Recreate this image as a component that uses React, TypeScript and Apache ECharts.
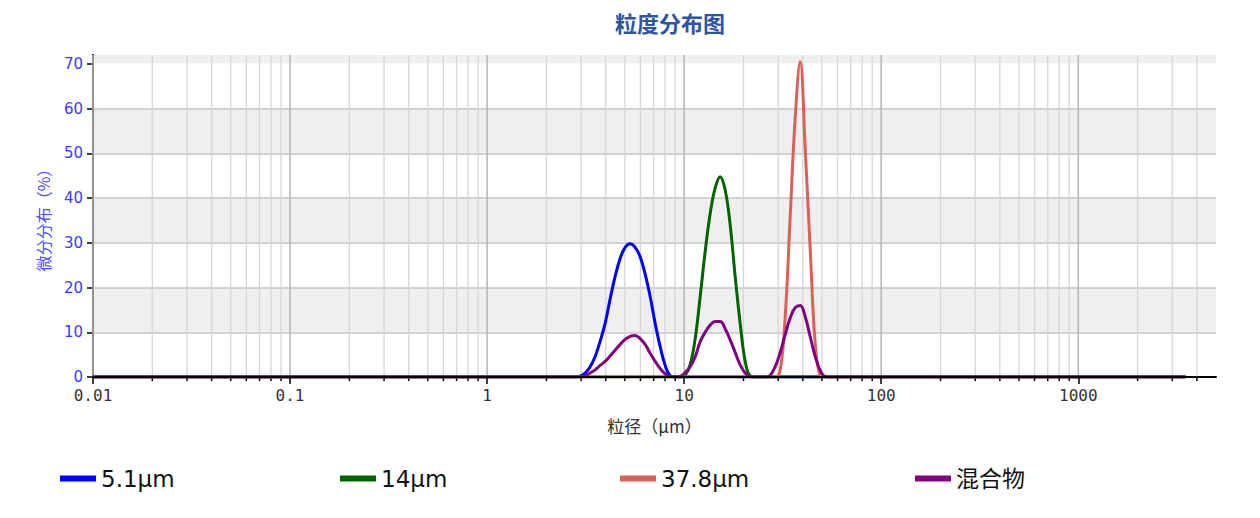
import { useEffect, useRef } from "react";
import * as echarts from "echarts";

const TITLE = "粒度分布图";
const X_NAME = "粒径（μm）";
const Y_NAME = "微分分布（%）";
const SERIES_NAMES = ["5.1μm", "14μm", "37.8μm", "混合物"];
const SERIES_COLORS = ["#0000ff", "#006400", "#dc5f5a", "#800080"];

const X_MIN = 0.01;
const X_MAX = 5000;
const Y_MIN = 0;
const Y_MAX = 72;
const Y_STEP = 10;
const Y_TICKS = [0, 10, 20, 30, 40, 50, 60, 70];

const MAJOR_TICKS = [0.01, 0.1, 1, 10, 100, 1000];
const MINOR_TICKS = [
  0.02, 0.03, 0.04, 0.05, 0.06, 0.07, 0.08, 0.09,
  0.2, 0.3, 0.4, 0.5, 0.6, 0.7, 0.8, 0.9,
  2, 3, 4, 5, 6, 7, 8, 9,
  20, 30, 40, 50, 60, 70, 80, 90,
  200, 300, 400, 500, 600, 700, 800, 900,
  2000, 3000, 4000,
];

// particle size classes (μm)
const SIZES = [
  0.01,
  2.638, 2.797, 2.966, 3.145, 3.333, 3.534, 3.747, 3.972, 4.211, 4.464,
  4.732, 5.017, 5.319, 5.640, 5.978, 6.339, 6.720, 7.125, 7.553, 8.008,
  8.490, 9.000, 9.543, 10.12, 10.73, 11.37, 12.06, 12.78, 13.55, 14.37,
  15.23, 16.15, 17.12, 18.15, 19.24, 20.40, 21.63, 22.93, 24.31, 25.78,
  27.33, 28.97, 30.72, 32.57, 34.53, 36.60, 38.80, 41.14, 43.62, 46.24,
  49.03, 51.97, 55.10,
  3500,
];

const S_5_1 = [
  0,
  0, 0, 0.2, 0.9, 2.3, 4.6, 8, 12, 17.5, 22.5,
  26.5, 29, 29.8, 29, 26.9, 23, 18, 12, 6.8, 2.6,
  0.3, 0, 0, 0, 0, 0, 0, 0, 0, 0,
  0, 0, 0, 0, 0, 0, 0, 0, 0, 0,
  0, 0, 0, 0, 0, 0, 0, 0, 0, 0,
  0, 0, 0,
  0,
];

const S_14 = [
  0,
  0, 0, 0, 0, 0, 0, 0, 0, 0, 0,
  0, 0, 0, 0, 0, 0, 0, 0, 0, 0,
  0, 0, 0, 0.4, 2.8, 8.5, 18, 28, 36.5, 42.3,
  44.8, 41.8, 34, 22.5, 12, 3.5, 0.2, 0, 0, 0,
  0, 0, 0, 0, 0, 0, 0, 0, 0, 0,
  0, 0, 0,
  0,
];

const S_37_8 = [
  0,
  0, 0, 0, 0, 0, 0, 0, 0, 0, 0,
  0, 0, 0, 0, 0, 0, 0, 0, 0, 0,
  0, 0, 0, 0, 0, 0, 0, 0, 0, 0,
  0, 0, 0, 0, 0, 0, 0, 0, 0, 0,
  0, 0, 1.5, 13.5, 36, 58, 70.5, 51, 28.5, 7.5,
  0.3, 0, 0,
  0,
];

const S_MIX = [
  0,
  0, 0, 0, 0.3, 0.9, 1.6, 2.6, 3.5, 4.7, 6.0,
  7.3, 8.4, 9.1, 9.3, 8.6, 7.3, 5.3, 3.5, 1.9, 0.7,
  0.1, 0, 0.1, 1.0, 2.3, 4.5, 7.9, 10, 11.6, 12.4,
  12.4, 10.8, 8.3, 5.5, 2.7, 0.9, 0.1, 0, 0, 0,
  0.4, 2.3, 5.5, 9.5, 13.2, 15.5, 16, 13.5, 9, 4.6,
  1.5, 0.1, 0,
  0,
];

const SERIES_VALUES = [S_5_1, S_14, S_37_8, S_MIX];
const LEGEND_LEFT = [55, 335, 615, 910];

export default function App() {
  const ref = useRef<HTMLDivElement>(null);

  useEffect(() => {
    if (!ref.current) return;
    const chart = echarts.init(ref.current, null, { renderer: "svg" });

    const gridData = [
      ...MAJOR_TICKS.map((v) => [v, 0, 1]),
      ...MINOR_TICKS.map((v) => [v, 0, 0]),
    ];

    const lineSeries = SERIES_NAMES.map((name, i) => ({
      name,
      type: "line",
      data: SIZES.map((s, j) => [s, SERIES_VALUES[i][j]]),
      smooth: 0.4,
      showSymbol: false,
      symbol: "none",
      lineStyle: { width: 3, color: SERIES_COLORS[i] },
      itemStyle: { color: SERIES_COLORS[i] },
      z: 5,
    }));

    chart.setOption({
      animation: false,
      backgroundColor: "#ffffff",
      title: {
        text: TITLE,
        left: 610,
        top: 6,
        textStyle: {
          fontSize: 22,
          fontWeight: "bold",
          color: "#2f54a0",
          fontFamily: "Noto Sans CJK SC",
        },
      },
      grid: { left: 93, right: 44, top: 55, bottom: 141, containLabel: false },
      legend: SERIES_NAMES.map((n, i) => ({
        data: [n],
        left: LEGEND_LEFT[i],
        top: 462,
        icon: "rect",
        itemWidth: 36,
        itemHeight: 6,
        itemGap: 0,
        selectedMode: false,
        textStyle: {
          fontSize: 23,
          color: "#111",
          fontFamily: "DejaVu Sans, Noto Sans CJK SC",
        },
      })),
      xAxis: {
        type: "log",
        logBase: 10,
        min: X_MIN,
        max: X_MAX,
        z: 6,
        axisLine: { show: true, onZero: false, lineStyle: { color: "#000", width: 2 } },
        axisTick: { show: true, length: 7, lineStyle: { color: "#000", width: 1.5 } },
        axisLabel: {
          color: "#333",
          fontSize: 16,
          fontFamily: "DejaVu Sans Mono",
          margin: 10,
          showMaxLabel: false,
          formatter: (v: number) => String(parseFloat(Number(v).toPrecision(4))),
        },
        splitLine: { show: false },
        name: X_NAME,
        nameLocation: "middle",
        nameGap: 40,
        nameTextStyle: { color: "#333", fontSize: 17, fontFamily: "Noto Sans CJK SC" },
      },
      yAxis: {
        type: "value",
        min: Y_MIN,
        max: Y_MAX,
        interval: Y_STEP,
        axisLine: { show: true, lineStyle: { color: "#000", width: 2 } },
        axisTick: {
          show: true,
          length: 6,
          customValues: Y_TICKS,
          lineStyle: { color: "#000", width: 1.5 },
        },
        axisLabel: {
          color: "#3b3bff",
          fontSize: 15,
          fontFamily: "DejaVu Sans",
          margin: 10,
          showMaxLabel: false,
        },
        splitLine: {
          show: true,
          showMaxLine: false,
          lineStyle: { color: "#c4c4c4", width: 1.5 },
        },
        splitArea: { show: true, areaStyle: { color: ["#ffffff", "#efefef"] } },
        name: Y_NAME,
        nameLocation: "middle",
        nameGap: 42,
        nameTextStyle: { color: "#4b4bff", fontSize: 16, fontFamily: "Noto Sans CJK SC" },
      },
      series: [
        {
          type: "custom",
          name: "topBand",
          data: [[X_MIN, Y_MAX]],
          z: 0,
          silent: true,
          renderItem: (params: any, api: any) => {
            const p0 = api.coord([X_MIN, Y_MAX]);
            const p1 = api.coord([X_MAX, Y_TICKS[Y_TICKS.length - 1]]);
            return {
              type: "rect",
              z2: 0,
              shape: { x: p0[0], y: p0[1], width: p1[0] - p0[0], height: p1[1] - p0[1] - 0.75 },
              style: { fill: "#efefef" },
            };
          },
        },
        {
          type: "custom",
          name: "grid",
          data: gridData,
          z: 4,
          silent: true,
          renderItem: (params: any, api: any) => {
            const v = api.value(0);
            const top = api.coord([v, Y_MAX]);
            const bot = api.coord([v, Y_MIN]);
            const x = top[0];
            const major = api.value(2) === 1;
            return {
              type: "group",
              children: [
                {
                  type: "line",
                  z2: 10,
                  shape: { x1: x, y1: top[1], x2: x, y2: bot[1] },
                  style: { stroke: major ? "#b8b8b8" : "#d6d6d6", lineWidth: major ? 1.6 : 1.3 },
                },
                {
                  type: "line",
                  z2: 10,
                  shape: { x1: x, y1: bot[1], x2: x, y2: bot[1] + (major ? 0 : 4) },
                  style: { stroke: "#000", lineWidth: 1.5 },
                },
              ],
            };
          },
        },
        ...lineSeries,
      ],
    });

    return () => chart.dispose();
  }, []);

  return (
    <div
      ref={ref}
      style={{ position: "fixed", left: 0, top: 0, width: 1260, height: 518 }}
    />
  );
}
